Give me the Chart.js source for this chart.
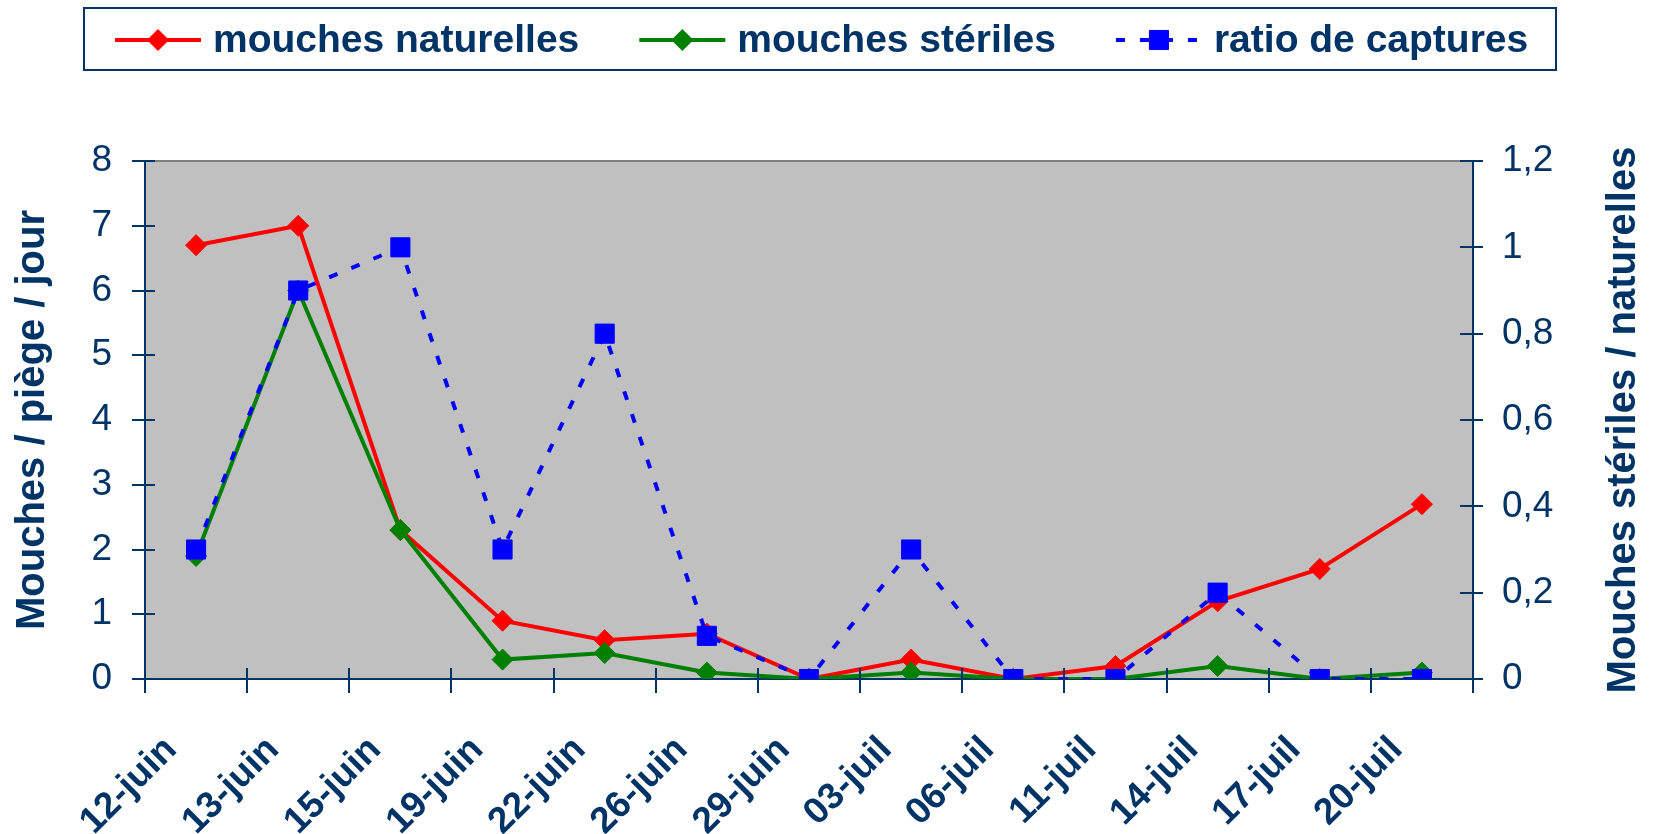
<!DOCTYPE html>
<html>
<head>
<meta charset="utf-8">
<script src="https://cdn.jsdelivr.net/npm/chart.js@4.4.1/dist/chart.umd.min.js"></script>
<style>
  html, body { margin: 0; padding: 0; background: #fff; }
  #wrap { width: 1654px; height: 834px; }
</style>
</head>
<body>
<div id="wrap"><canvas id="chart" width="1654" height="834"></canvas></div>
<script>
// data
const dates = ['12-juin', '13-juin', '15-juin', '19-juin', '22-juin', '26-juin', '29-juin',
               '03-juil', '06-juil', '11-juil', '14-juil', '17-juil', '20-juil'];
const naturelles = [6.7, 7.0, 2.3, 0.9, 0.6, 0.7, 0, 0.3, 0, 0.2, 1.2, 1.7, 2.7];
const steriles   = [1.9, 6.0, 2.3, 0.3, 0.4, 0.1, 0, 0.1, 0, 0, 0.2, 0, 0.1];
const ratio      = [0.3, 0.9, 1.0, 0.3, 0.8, 0.1, 0, 0.3, 0, 0, 0.2, 0, 0];

const leftRange  = [0, 8, 1];      // min, max, step
const rightRange = [0, 1.2, 0.2];

const leftTitle  = 'Mouches / piège / jour';
const rightTitle = 'Mouches stériles / naturelles';

const navy = '#003366';
const font = 'Liberation Sans, Arial, sans-serif';

// grey plot area, top border, inner half of the cross ticks, titles and boxed legend
const decor = {
  id: 'decor',
  beforeDraw(chart) {
    const { ctx, chartArea: a } = chart;
    ctx.save();
    ctx.fillStyle = '#c0c0c0';
    ctx.fillRect(a.left, a.top, a.right - a.left, a.bottom - a.top);
    ctx.restore();
  },
  afterDraw(chart) {
    const { ctx, chartArea: a, scales } = chart;
    ctx.save();

    ctx.strokeStyle = '#808080';
    ctx.lineWidth = 2;
    ctx.beginPath();
    ctx.moveTo(a.left, a.top);
    ctx.lineTo(a.right, a.top);
    ctx.stroke();

    ctx.strokeStyle = navy;
    ctx.lineWidth = 2;
    ctx.beginPath();
    for (let i = 0; i <= dates.length; i++) {
      const px = Math.round(scales.x.getPixelForValue(i - 0.5));
      ctx.moveTo(px, a.bottom);
      ctx.lineTo(px, a.bottom - 11);
    }
    scales.y.ticks.forEach((t, i) => {
      const py = Math.round(scales.y.getPixelForTick(i));
      ctx.moveTo(a.left, py);
      ctx.lineTo(a.left + 10, py);
    });
    scales.y1.ticks.forEach((t, i) => {
      const py = Math.round(scales.y1.getPixelForTick(i));
      ctx.moveTo(a.right, py);
      ctx.lineTo(a.right - 13, py);
    });
    ctx.stroke();

    // axis titles, both reading bottom to top
    const midY = (a.top + a.bottom) / 2;
    ctx.fillStyle = navy;
    ctx.textAlign = 'center';
    ctx.textBaseline = 'middle';
    ctx.font = 'bold 40px ' + font;
    ctx.save();
    ctx.translate(33, midY);
    ctx.rotate(-Math.PI / 2);
    ctx.fillText(leftTitle, 0, 0);
    ctx.restore();
    ctx.save();
    ctx.translate(1624, midY);
    ctx.rotate(-Math.PI / 2);
    ctx.fillText(rightTitle, 0, 0);
    ctx.restore();

    // legend
    ctx.strokeStyle = navy;
    ctx.lineWidth = 2;
    ctx.strokeRect(84, 8, 1472, 62);
    ctx.font = 'bold 39px ' + font;
    ctx.textAlign = 'left';
    const ly = 40;
    let lx = 115;
    chart.data.datasets.forEach(ds => {
      ctx.save();
      ctx.strokeStyle = ds.borderColor;
      ctx.lineWidth = ds.borderWidth;
      ctx.setLineDash(ds.borderDash || []);
      ctx.beginPath();
      ctx.moveTo(lx, ly);
      ctx.lineTo(lx + 86, ly);
      ctx.stroke();
      ctx.restore();
      ctx.save();
      ctx.fillStyle = ds.backgroundColor;
      ctx.strokeStyle = ds.borderColor;
      ctx.lineWidth = 1;
      Chart.helpers.drawPoint(ctx, { pointStyle: ds.pointStyle, radius: ds.pointRadius, rotation: 0, borderWidth: 1 }, lx + 43, ly);
      ctx.restore();
      ctx.fillStyle = navy;
      ctx.fillText(ds.label, lx + 98, ly + 1);
      lx += 98 + ctx.measureText(ds.label).width + 60;
    });

    ctx.restore();
  }
};

const tickFont = { family: font, size: 37 };

new Chart(document.getElementById('chart'), {
  type: 'line',
  data: {
    labels: dates,
    datasets: [
      {
        label: 'mouches naturelles',
        data: naturelles,
        yAxisID: 'y',
        borderColor: '#ff0000',
        backgroundColor: '#ff0000',
        borderWidth: 4,
        pointStyle: 'rectRot',
        pointRadius: 10.5,
        pointBorderWidth: 1,
        order: 3
      },
      {
        label: 'mouches stériles',
        data: steriles,
        yAxisID: 'y',
        borderColor: '#008000',
        backgroundColor: '#008000',
        borderWidth: 4,
        pointStyle: 'rectRot',
        pointRadius: 10.5,
        pointBorderWidth: 1,
        order: 2
      },
      {
        label: 'ratio de captures',
        data: ratio,
        yAxisID: 'y1',
        borderColor: '#0000ff',
        backgroundColor: '#0000ff',
        borderWidth: 4,
        borderDash: [9, 15],
        pointStyle: 'rect',
        pointRadius: 13.5,
        pointBorderWidth: 1,
        order: 1
      }
    ]
  },
  options: {
    responsive: false,
    animation: false,
    layout: { padding: { top: 161, left: 0, right: 0, bottom: 0 } },
    plugins: {
      legend: { display: false },
      tooltip: { enabled: false }
    },
    scales: {
      x: {
        offset: true,
        grid: { offset: true, drawOnChartArea: false, tickLength: 14, color: navy, lineWidth: 2 },
        border: { color: navy, width: 2 },
        ticks: {
          autoSkip: false,
          minRotation: 45,
          maxRotation: 45,
          padding: 35,
          labelOffset: -25,
          color: navy,
          font: { family: font, size: 37, weight: 'bold' }
        },
        afterFit(s) { s.height = 155; }
      },
      y: {
        position: 'left',
        min: leftRange[0],
        max: leftRange[1],
        grid: { drawOnChartArea: false, tickLength: 13, color: navy, lineWidth: 2 },
        border: { color: navy, width: 2 },
        ticks: { stepSize: leftRange[2], padding: 20, color: navy, font: tickFont },
        afterFit(s) { s.width = 145; }
      },
      y1: {
        position: 'right',
        min: rightRange[0],
        max: rightRange[1],
        grid: { drawOnChartArea: false, tickLength: 10, color: navy, lineWidth: 2 },
        border: { color: navy, width: 2 },
        ticks: {
          stepSize: rightRange[2],
          padding: 19,
          color: navy,
          font: tickFont,
          callback: v => String(Math.round(v * 10) / 10).replace('.', ',')
        },
        afterFit(s) { s.width = 181; }
      }
    }
  },
  plugins: [decor]
});
</script>
</body>
</html>
